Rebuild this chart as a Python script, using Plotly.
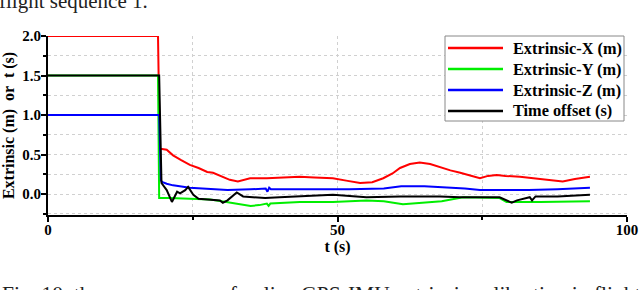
import plotly.graph_objects as go

# ---- data ----
x_t = [0, 19.0, 19.3, 19.7, 20.5, 21.6, 23.0, 24.5, 26.0, 27.5, 28.5, 30.0, 31.4, 32.8, 34.9, 37.8, 40.0,
       43.5, 46.0, 49.2, 51.5, 53.9, 56.0, 57.9, 59.5, 60.8, 62.5, 64.2, 66.0, 67.7, 69.5, 71.2, 73.0,
       74.6, 76.0, 77.5, 79.0, 81.5, 85.0, 88.9, 91.0, 93.6]
x_v = [2.0, 2.0, 0.57, 0.57, 0.56, 0.49, 0.43, 0.37, 0.33, 0.28, 0.27, 0.22, 0.18, 0.16, 0.20, 0.20, 0.21,
       0.22, 0.21, 0.20, 0.17, 0.14, 0.15, 0.20, 0.26, 0.33, 0.38, 0.40, 0.38, 0.34, 0.30, 0.27, 0.23,
       0.20, 0.23, 0.24, 0.23, 0.22, 0.19, 0.16, 0.19, 0.22]

y_t = [0, 19.0, 19.2, 21.0, 24.5, 28.0, 30.0, 33.0, 35.0, 36.5, 37.8, 38.1, 38.4, 43.5, 49.2, 55.0, 58.0,
       61.3, 65.0, 68.0, 71.7, 78.0, 79.2, 85.0, 93.6]
y_v = [1.5, 1.5, -0.05, -0.05, -0.06, -0.07, -0.09, -0.13, -0.15, -0.14, -0.12, -0.15, -0.12, -0.10, -0.10,
       -0.08, -0.09, -0.13, -0.11, -0.09, -0.04, -0.05, -0.10, -0.10, -0.09]

z_t = [0, 19.2, 19.5, 19.8, 20.5, 21.6, 24.5, 28.0, 31.0, 35.0, 37.6, 37.9, 38.2, 38.5, 45.0, 52.0, 58.0,
       61.0, 65.0, 68.0, 72.0, 74.6, 78.0, 83.0, 88.0, 92.0, 93.6]
z_v = [1.0, 1.0, 0.17, 0.15, 0.13, 0.11, 0.08, 0.06, 0.05, 0.06, 0.07, 0.03, 0.08, 0.06, 0.06, 0.06, 0.07,
       0.10, 0.10, 0.09, 0.07, 0.05, 0.05, 0.05, 0.06, 0.07, 0.08]

k_t = [0, 19.2, 19.6, 20.5, 21.4, 22.3, 22.8, 23.7, 24.2, 25.1, 26.0, 27.5, 29.7, 30.2, 31.0, 32.6, 33.7,
       35.4, 37.5, 40.0, 43.5, 49.2, 55.0, 60.8, 67.7, 71.2, 78.0, 79.2, 80.1, 81.0, 83.2, 83.6, 84.2,
       88.0, 93.6]
k_v = [1.5, 1.5, 0.14, 0.05, -0.10, 0.03, 0.01, 0.05, 0.09, -0.01, -0.06, -0.07, -0.08, -0.11, -0.08,
       0.02, -0.03, -0.04, -0.05, -0.04, -0.03, -0.01, -0.04, -0.03, -0.03, -0.04, -0.04, -0.08, -0.11,
       -0.08, -0.04, -0.08, -0.03, -0.03, -0.01]

series_names = ["Extrinsic-X (m)", "Extrinsic-Y (m)", "Extrinsic-Z (m)", "Time offset (s)"]
series_colors = ["#ff0000", "#00ee00", "#0000ff", "#000000"]
series_t = [x_t, y_t, z_t, k_t]
series_v = [x_v, y_v, z_v, k_v]

x_ticks = [0, 50, 100]
y_ticks = [0.0, 0.5, 1.0, 1.5, 2.0]

SERIF = "Liberation Serif"
W, H = 640, 290
ML, MR, MT, MB = 48, 13, 36, 75
PW, PH = W - ML - MR, H - MT - MB


def px_x(x):  # page pixel -> paper x
    return (x - ML) / PW


def px_y(y):  # page pixel -> paper y
    return (H - MB - y) / PH


fig = go.Figure()
for name, t, v, c in zip(series_names, series_t, series_v, series_colors):
    fig.add_trace(go.Scatter(x=t, y=v, mode="lines", name=name, showlegend=False,
                             line=dict(color=c, width=2)))

axis_common = dict(
    showline=True, linecolor="black", linewidth=2, mirror=False,
    ticks="outside", ticklen=5, tickwidth=1.5, tickcolor="black",
    showgrid=True, gridcolor="#d0d0d0", griddash="dot", gridwidth=1,
    zeroline=False, automargin=False,
    tickfont=dict(family=SERIF, size=15, color="black", weight="bold"),
)

fig.update_xaxes(range=[0, 100], tickvals=x_ticks, ticktext=[str(v) for v in x_ticks],
                 ticklabelstandoff=-5,
                 title=dict(text="t (s)", font=dict(family=SERIF, size=16, color="black", weight="bold"),
                            standoff=4),
                 minor=dict(dtick=25, tick0=0, ticks="outside", ticklen=3, tickcolor="black",
                            showgrid=True, gridcolor="#d0d0d0", griddash="dot"),
                 **axis_common)
fig.update_yaxes(range=[-0.265, 2.0], tickvals=y_ticks, ticktext=[f"{v:.1f}" for v in y_ticks],
                 ticklabelstandoff=-3,
                 title=dict(text="Extrinsic (m)  or  t (s)",
                            font=dict(family=SERIF, size=16, color="black", weight="bold"), standoff=4),
                 minor=dict(dtick=0.25, tick0=0, ticks="outside", ticklen=3, tickcolor="black",
                            showgrid=True, gridcolor="#d0d0d0", griddash="dot"),
                 **axis_common)

# ---- legend drawn as a boxed key ----
shapes = [dict(type="rect", xref="paper", yref="paper",
               x0=px_x(445), x1=px_x(624), y0=px_y(121), y1=px_y(36),
               line=dict(color="#888888", width=1), fillcolor="white", layer="above")]
annotations = []
row_y = [48, 69, 90, 111]
for name, c, ry in zip(series_names, series_colors, row_y):
    shapes.append(dict(type="line", xref="paper", yref="paper",
                       x0=px_x(448), x1=px_x(503), y0=px_y(ry), y1=px_y(ry),
                       line=dict(color=c, width=2.5), layer="above"))
    annotations.append(dict(text=name, xref="paper", yref="paper", x=px_x(511), y=px_y(ry),
                            xanchor="left", yanchor="middle", showarrow=False,
                            font=dict(family=SERIF, size=16.3, color="black", weight="bold")))

annotations += [
    dict(text="flight sequence 1.", xref="paper", yref="paper", x=px_x(-3), y=1.0,
         xanchor="left", yanchor="bottom", yshift=21, showarrow=False,
         font=dict(family=SERIF, size=21, color="#222222")),
    dict(text="Fig. 10. the convergence of online GPS-IMU extrinsic calibration in flight sequence 1",
         xref="paper", yref="paper", x=px_x(0), y=0.0, xanchor="left", yanchor="top",
         yshift=-65, showarrow=False,
         font=dict(family=SERIF, size=21.5, color="#222222")),
]

fig.update_layout(
    width=W, height=H,
    margin=dict(l=ML, r=MR, t=MT, b=MB),
    plot_bgcolor="white", paper_bgcolor="white",
    showlegend=False,
    shapes=shapes,
    annotations=annotations,
)

fig.write_html("out.html", config={"displayModeBar": False},
               post_script="document.body.style.margin='0';")
